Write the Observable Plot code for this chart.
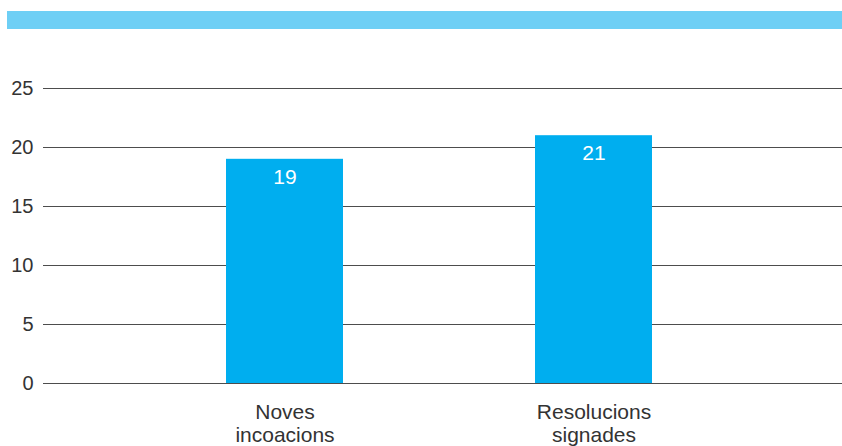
<!DOCTYPE html>
<html>
<head>
<meta charset="utf-8">
<script src="https://cdn.jsdelivr.net/npm/d3@7"></script>
<script src="https://cdn.jsdelivr.net/npm/@observablehq/plot@0.6"></script>
<style>
  body { margin: 0; background: #fff; }
  #wrap { position: relative; width: 842px; height: 446px; overflow: hidden; }
  #band { position: absolute; left: 7px; top: 11px; width: 835px; height: 18px; background: #6ecff5; }
  #chart { position: absolute; left: 0; top: 0; }
</style>
</head>
<body>
<div id="wrap">
  <div id="chart"></div>
  <div id="band"></div>
</div>
<script>
const categories = ["Noves\nincoacions", "Resolucions\nsignades"];
const values = [19, 21];
const yTicks = [0, 5, 10, 15, 20, 25];

const data = categories.map((c, i) => ({cat: c, value: values[i]}));

const chart = Plot.plot({
  width: 842,
  height: 446,
  marginLeft: 43,
  marginRight: 0,
  marginTop: 88,
  marginBottom: 63,
  style: {fontFamily: "'Liberation Sans', Arial, sans-serif", background: "transparent"},
  x: {domain: categories, paddingInner: 0.62, paddingOuter: 0.6, align: 0.49, label: null},
  y: {domain: [0, 25], label: null},
  marks: [
    Plot.ruleY(yTicks, {stroke: "#4d4d4d", strokeWidth: 1.2}),
    Plot.barY(data, {x: "cat", y: "value", fill: "#00aeef"}),
    Plot.text(data, {x: "cat", y: "value", text: d => String(d.value), dy: 18, fill: "white", fontSize: 21}),
    Plot.axisY({ticks: yTicks, tickSize: 0, tickPadding: 10, fontSize: 20, color: "#333", label: null}),
    Plot.axisX({tickSize: 0, tickPadding: 19, fontSize: 21, lineHeight: 1.1, color: "#333", label: null})
  ]
});
document.getElementById("chart").appendChild(chart);
</script>
</body>
</html>
